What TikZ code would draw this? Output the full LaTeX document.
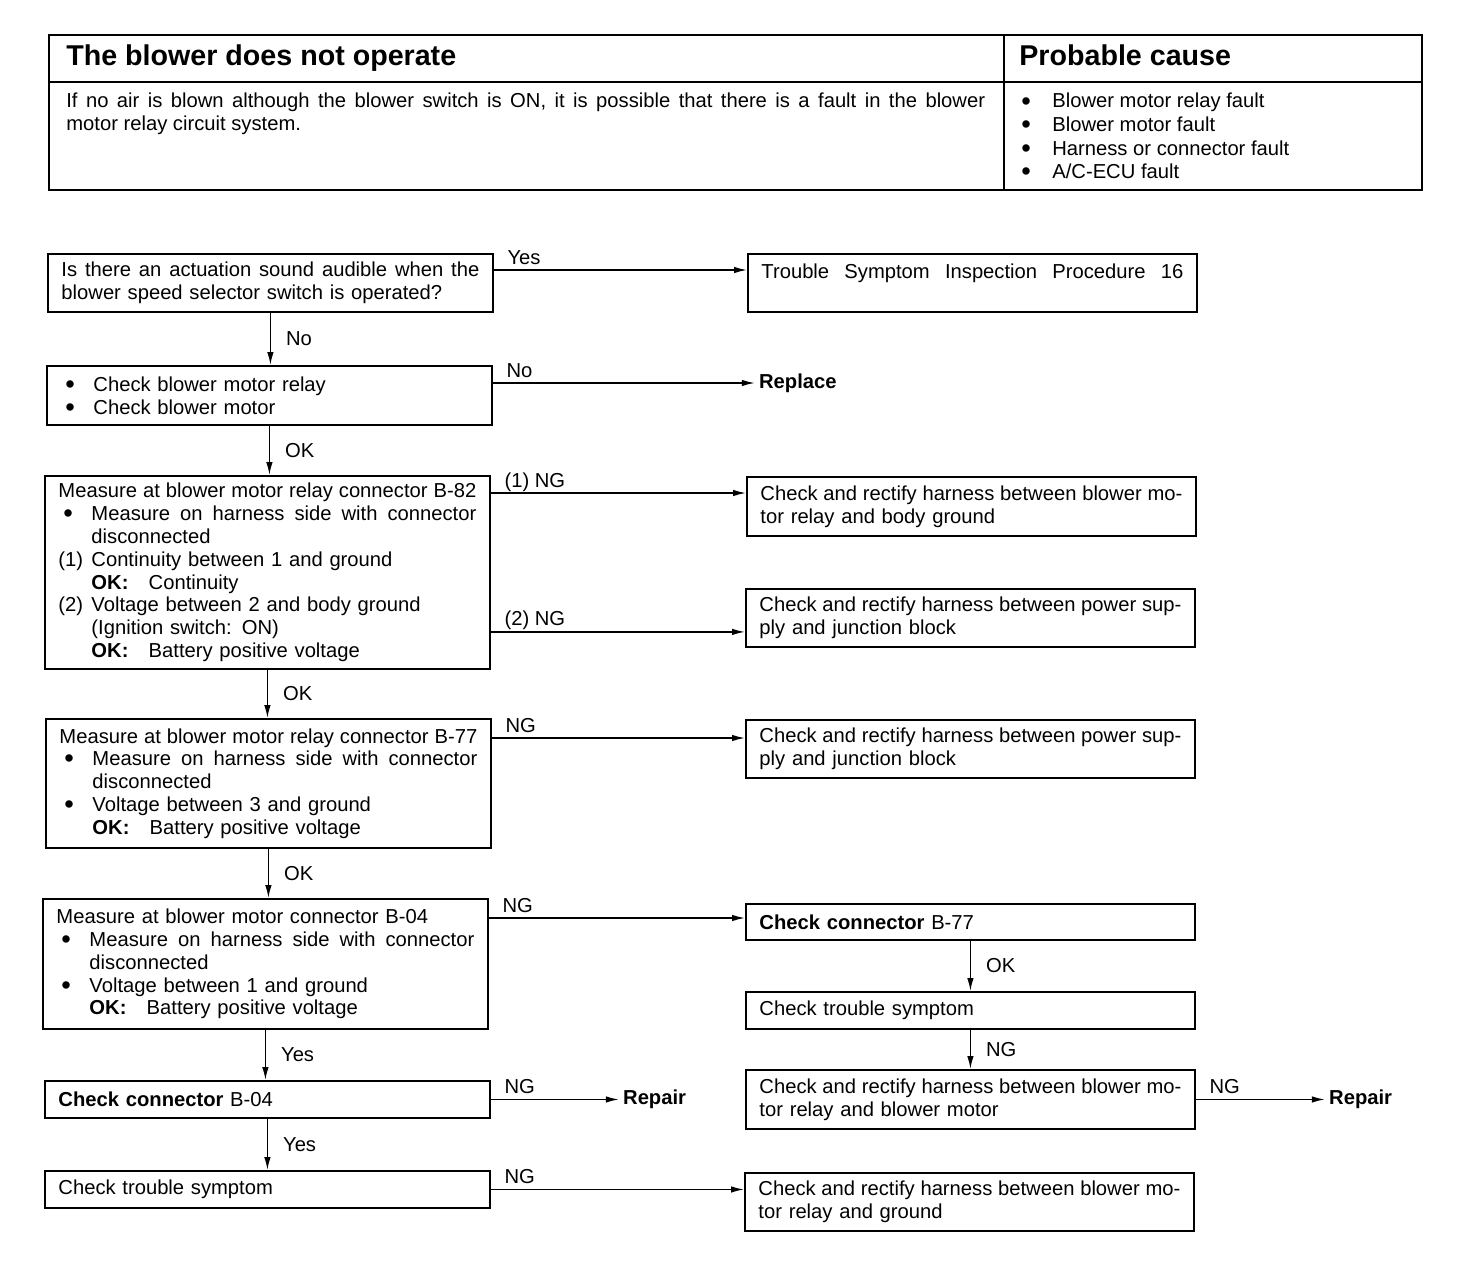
\documentclass[tikz,border=0pt]{standalone}
\usepackage{fontspec}
\setmainfont{Liberation Sans}
\usetikzlibrary{arrows.meta,positioning}

\newcommand{\bdot}{\smash{\raisebox{-0.2ex}{\scalebox{1.35}{\textbullet}}}}
\newcommand{\blt}{\makebox[0.66cm][l]{\hspace{0.1cm}\bdot}}
\newcommand{\hng}{\hspace*{0.66cm}}
\newcommand{\nitem}[1]{\makebox[0.66cm][l]{#1}}
\newcommand{\okk}{\textbf{OK:}\quad}
\newcommand{\jl}[1]{\makebox[\hsize][s]{\spaceskip=0pt\relax #1}}
\newcommand{\jli}[1]{\makebox[\dimexpr\hsize-0.66cm\relax][s]{\spaceskip=0pt\relax #1}}

\begin{document}
\begin{tikzpicture}[x=0.02cm,y=-0.02cm,>={Latex[length=0.26cm,width=0.13cm]},
  font=\fontsize{11.5}{13}\selectfont,
  box/.style={draw,line width=1.1pt,anchor=north west,align=left,
    inner xsep=0.27cm,inner ysep=0pt,text width=#1},
  conn/.style={->,line width=0.8pt},
  lbl/.style={inner sep=0pt},
  hlbl/.style={lbl,pos=0,anchor=base west,xshift=0.26cm,yshift=0.12cm},
  vlbl/.style={lbl,midway,anchor=west,xshift=0.3cm},
  endn/.style={anchor=west,inner sep=0.08cm,font=\fontsize{11.5}{13}\selectfont\bfseries},
  ttl/.style={anchor=base west,inner sep=0pt,font=\fontsize{16.3}{19}\selectfont\bfseries}]

  \useasboundingbox (0,0) rectangle (1472,1282);

  % ---- header table ----
  \draw[line width=1.1pt] (49,35) rectangle (1422,190);
  \draw[line width=1.1pt] (49,82) -- (1422,82);
  \draw[line width=1.1pt] (1004,35) -- (1004,190);
  \node[ttl] (title) at (66,65) {The blower does not operate};
  \node[ttl] (cause) at (1019,65) {Probable cause};
  \node[anchor=north west,align=left,inner sep=0pt] (desc) at (66,93)
    {\makebox[18.38cm][s]{\spaceskip=0pt\relax If no air is blown although the blower switch is ON, it is possible that there is a fault in the blower}\\
     motor relay circuit system.};
  \node[anchor=north west,align=left,inner sep=0pt,font=\fontsize{11.5}{13.4}\selectfont] (causes) at (1021,93)
    {\makebox[0.62cm][l]{\bdot}Blower motor relay fault\\
     \makebox[0.62cm][l]{\bdot}Blower motor fault\\
     \makebox[0.62cm][l]{\bdot}Harness or connector fault\\
     \makebox[0.62cm][l]{\bdot}A/C-ECU fault};

  % ---- left column ----
  \node[box=8.36cm,minimum height=1.16cm] (q1) at (47,253)
    {\jl{Is there an actuation sound audible when the}\\blower speed selector switch is operated?};
  \node[box=8.36cm,minimum height=1.18cm] (b1) at (46,365)
    {\blt Check blower motor relay\\\blt Check blower motor};
  \node[box=8.36cm,minimum height=3.86cm] (b2) at (44,475)
    {\jl{Measure at blower motor relay connector B-82}\\
     \blt\jli{Measure on harness side with connector}\\
     \hng disconnected\\
     \nitem{(1)}Continuity between 1 and ground\\
     \hng\okk Continuity\\
     \nitem{(2)}Voltage between 2 and body ground\\
     \hng(Ignition switch: ON)\\
     \hng\okk Battery positive voltage};
  \node[box=8.36cm,minimum height=2.58cm] (b3) at (45,718)
    {\jl{Measure at blower motor relay connector B-77}\\
     \blt\jli{Measure on harness side with connector}\\
     \hng disconnected\\
     \blt Voltage between 3 and ground\\
     \hng\okk Battery positive voltage};
  \node[box=8.36cm,minimum height=2.6cm] (b4) at (42,898)
    {Measure at blower motor connector B-04\\
     \blt\jli{Measure on harness side with connector}\\
     \hng disconnected\\
     \blt Voltage between 1 and ground\\
     \hng\okk Battery positive voltage};
  \node[box=8.36cm,minimum height=0.74cm] (c04) at (44,1080) {\textbf{Check connector} B-04};
  \node[box=8.36cm,minimum height=0.74cm] (ct1) at (44,1170) {Check trouble symptom};

  % ---- right column ----
  \node[box=8.44cm,minimum height=1.16cm] (t16) at (747,253)
    {\jl{Trouble Symptom Inspection Procedure 16}\\\mbox{}};
  \node[box=8.44cm,minimum height=1.18cm] (r1) at (746,476)
    {\jl{Check and rectify harness between blower mo-}\\tor relay and body ground};
  \node[box=8.44cm,minimum height=1.16cm] (r2) at (745,588)
    {\jl{Check and rectify harness between power sup-}\\ply and junction block};
  \node[box=8.44cm,minimum height=1.16cm] (r3) at (745,719)
    {\jl{Check and rectify harness between power sup-}\\ply and junction block};
  \node[box=8.44cm,minimum height=0.72cm] (c77) at (745,903) {\textbf{Check connector} B-77};
  \node[box=8.44cm,minimum height=0.74cm] (ct2) at (745,991) {Check trouble symptom};
  \node[box=8.44cm,minimum height=1.18cm] (r4) at (745,1069)
    {\jl{Check and rectify harness between blower mo-}\\tor relay and blower motor};
  \node[box=8.44cm,minimum height=1.16cm] (r5) at (744,1172)
    {\jl{Check and rectify harness between blower mo-}\\tor relay and ground};

  % ---- end results ----
  \coordinate (b1o) at ([yshift=-0.36cm]b1.north east);
  \node[endn] (replace) at ([xshift=5.24cm]b1o) {Replace};
  \node[endn] (repair1) at ([xshift=2.56cm]c04.east) {Repair};
  \node[endn] (repair2) at ([xshift=2.58cm]r4.east) {Repair};

  % ---- horizontal connectors ----
  \coordinate (q1o) at ([yshift=-0.34cm]q1.north east);
  \coordinate (b2o) at ([yshift=-0.36cm]b2.north east);
  \coordinate (b2p) at ([yshift=0.76cm]b2.south east);
  \coordinate (b3o) at ([yshift=-0.4cm]b3.north east);
  \coordinate (b4o) at ([yshift=-0.4cm]b4.north east);
  \draw[conn] (q1o) -- (q1o -| t16.west) node[hlbl] {Yes};
  \draw[conn] (b1o) -- (replace) node[hlbl] {No};
  \draw[conn] (b2o) -- (b2o -| r1.west) node[hlbl] {(1) NG};
  \draw[conn] (b2p) -- (b2p -| r2.west) node[hlbl] {(2) NG};
  \draw[conn] (b3o) -- (b3o -| r3.west) node[hlbl] {NG};
  \draw[conn] (b4o) -- (b4o -| c77.west) node[hlbl] {NG};
  \draw[conn] (c04.east) -- (repair1) node[hlbl] {NG};
  \draw[conn] (ct1.east) -- (ct1.east -| r5.west) node[hlbl] {NG};
  \draw[conn] (r4.east) -- (repair2) node[hlbl] {NG};

  % ---- vertical connectors ----
  \draw[conn] (q1.south) -- (q1.south |- b1.north) node[vlbl] {No};
  \draw[conn] (b1.south) -- (b1.south |- b2.north) node[vlbl] {OK};
  \draw[conn] (b2.south) -- (b2.south |- b3.north) node[vlbl] {OK};
  \draw[conn] (b3.south) -- (b3.south |- b4.north) node[vlbl] {OK};
  \draw[conn] (b4.south) -- (b4.south |- c04.north) node[vlbl] {Yes};
  \draw[conn] (c04.south) -- (c04.south |- ct1.north) node[vlbl] {Yes};
  \draw[conn] (c77.south) -- (c77.south |- ct2.north) node[vlbl] {OK};
  \draw[conn] (ct2.south) -- (ct2.south |- r4.north) node[vlbl] {NG};
\end{tikzpicture}
\end{document}
